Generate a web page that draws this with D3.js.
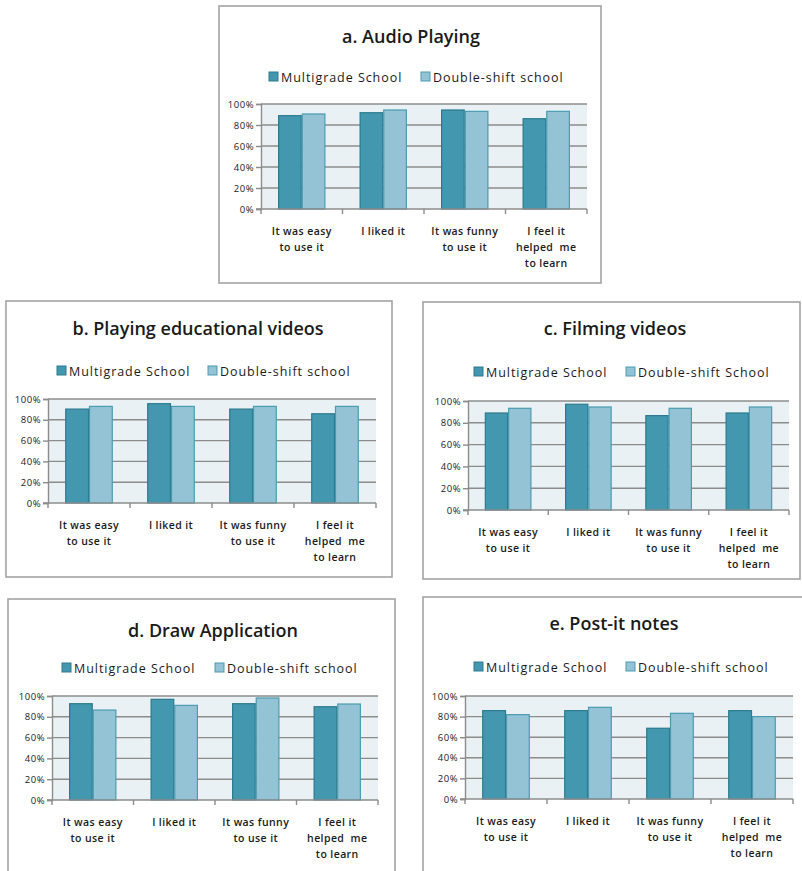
<!DOCTYPE html>
<html>
<head>
<meta charset="utf-8">
<script src="https://cdn.jsdelivr.net/npm/d3@7"></script>
<style>
  html, body { margin: 0; padding: 0; background: #ffffff; }
  svg { display: block; }
  text { font-family: "Open Sans", "Noto Sans", sans-serif; fill: #1a1a1a; }
</style>
</head>
<body>
<svg id="chart" width="802" height="871"></svg>
<script>
// Survey answers, share of pupils agreeing (0–1)
const categories = ["It was easy to use it", "I liked it", "It was funny to use it", "I feel it helped me to learn"];
const categoryLines = [["It was easy", "to use it"], ["I liked it"], ["It was funny", "to use it"], ["I feel it", "helped  me", "to learn"]];
const yTicks = [0, 0.2, 0.4, 0.6, 0.8, 1.0];

const titles = ["a. Audio Playing", "b. Playing educational videos", "c. Filming videos", "d. Draw Application", "e. Post-it notes"];
const seriesA = ["Multigrade School", "Double-shift school"];
const seriesC = ["Multigrade School", "Double-shift School"];

const audioMulti   = [0.889, 0.917, 0.943, 0.860];
const audioDouble  = [0.905, 0.943, 0.930, 0.930];
const videoMulti   = [0.903, 0.955, 0.903, 0.858];
const videoDouble  = [0.929, 0.929, 0.929, 0.929];
const filmMulti    = [0.890, 0.970, 0.866, 0.890];
const filmDouble   = [0.933, 0.945, 0.933, 0.945];
const drawMulti    = [0.926, 0.968, 0.926, 0.897];
const drawDouble   = [0.865, 0.910, 0.981, 0.923];
const postitMulti  = [0.858, 0.858, 0.687, 0.858];
const postitDouble = [0.819, 0.890, 0.832, 0.800];

// Panel frames and plot areas (pixels)
const panels = [
  { title: titles[0], series: seriesA, values: [audioMulti, audioDouble],
    box: [219, 6, 382, 277], plot: [261, 587, 104, 209], titleXY: [411, 43], legendY: 77, legendX: [269, 421] },
  { title: titles[1], series: seriesA, values: [videoMulti, videoDouble],
    box: [6, 301, 386, 276], plot: [48, 376, 399, 503], titleXY: [198, 335], legendY: 371, legendX: [57, 208] },
  { title: titles[2], series: seriesC, values: [filmMulti, filmDouble],
    box: [423, 302, 377, 277], plot: [468, 789, 401, 510], titleXY: [615, 335], legendY: 372, legendX: [474, 626] },
  { title: titles[3], series: seriesA, values: [drawMulti, drawDouble],
    box: [8, 599, 387, 290], plot: [52, 378, 696, 800], titleXY: [213, 637], legendY: 668, legendX: [62, 215] },
  { title: titles[4], series: seriesA, values: [postitMulti, postitDouble],
    box: [423, 597, 400, 290], plot: [465, 793, 696, 799], titleXY: [614, 630], legendY: 667, legendX: [474, 626] }
];

const fills   = ["#4397ae", "#93c3d4"];
const strokes = ["#2c7a8f", "#4a9bb2"];

const svg = d3.select("#chart");

panels.forEach(p => {
  const g = svg.append("g");

  // frame
  g.append("rect")
    .attr("x", p.box[0]).attr("y", p.box[1])
    .attr("width", p.box[2]).attr("height", p.box[3])
    .attr("fill", "#ffffff").attr("stroke", "#a3a3a3").attr("stroke-width", 1.6);

  // title
  g.append("text")
    .attr("x", p.titleXY[0]).attr("y", p.titleXY[1])
    .attr("text-anchor", "middle")
    .attr("font-size", 18).attr("font-weight", 600)
    .text(p.title);

  // legend
  p.series.forEach((s, i) => {
    const lx = p.legendX[i];
    g.append("rect")
      .attr("x", lx).attr("y", p.legendY - 5)
      .attr("width", 9).attr("height", 9)
      .attr("fill", fills[i]).attr("stroke", strokes[i]).attr("stroke-width", 1);
    g.append("text")
      .attr("x", lx + 12).attr("y", p.legendY + 4.5)
      .attr("font-size", 12.5).attr("letter-spacing", 0.95)
      .text(s);
  });

  const [x0, x1, yTop, yBot] = p.plot;
  const x = d3.scaleBand().domain(categories).range([x0, x1]).paddingInner(0.42).paddingOuter(0.21);
  const xs = d3.scaleBand().domain(d3.range(p.series.length)).range([0, x.bandwidth()]);
  const y = d3.scaleLinear().domain([0, 1]).range([yBot, yTop]);

  // plot background
  g.append("rect")
    .attr("x", x0).attr("y", yTop)
    .attr("width", x1 - x0).attr("height", yBot - yTop)
    .attr("fill", "#eaf1f4");

  // y axis with gridlines
  const yAxis = d3.axisLeft(y).tickValues(yTicks).tickFormat(d3.format(".0%")).tickSize(5).tickPadding(2);
  const ya = g.append("g").attr("transform", `translate(${x0},0)`).call(yAxis);
  ya.select(".domain").attr("stroke", "#8c8c8c").attr("stroke-width", 1.4);
  ya.selectAll(".tick line").attr("stroke", "#8c8c8c").attr("stroke-width", 1.4);
  ya.selectAll(".tick text").attr("font-size", 9.5).attr("letter-spacing", 0.5)
    .attr("font-family", "\"Open Sans\", sans-serif").attr("fill", "#1a1a1a");

  g.append("g").selectAll("line").data(yTicks.filter(t => t > 0)).join("line")
    .attr("x1", x0).attr("x2", x1)
    .attr("y1", d => y(d)).attr("y2", d => y(d))
    .attr("stroke", "#8c8c8c").attr("stroke-width", 1.4);

  // bars
  p.series.forEach((s, si) => {
    g.append("g").selectAll("rect").data(p.values[si]).join("rect")
      .attr("x", (d, ci) => x(categories[ci]) + xs(si) + 0.5)
      .attr("y", d => y(d))
      .attr("width", xs.bandwidth() - 1)
      .attr("height", d => yBot - y(d))
      .attr("fill", fills[si]).attr("stroke", strokes[si]).attr("stroke-width", 1.2);
  });

  // x axis: baseline with ticks at category boundaries
  g.append("line")
    .attr("x1", x0 - 5).attr("x2", x1)
    .attr("y1", yBot).attr("y2", yBot)
    .attr("stroke", "#8c8c8c").attr("stroke-width", 1.4);
  const bounds = categories.map(c => x(c) - x.step() * x.paddingOuter()).concat([x1]);
  g.append("g").selectAll("line").data(bounds).join("line")
    .attr("x1", d => d).attr("x2", d => d)
    .attr("y1", yBot).attr("y2", yBot + 5)
    .attr("stroke", "#8c8c8c").attr("stroke-width", 1.4);

  // category labels
  categoryLines.forEach((lines, ci) => {
    const cx = x(categories[ci]) + x.bandwidth() / 2;
    const t = g.append("text")
      .attr("text-anchor", "middle")
      .attr("font-size", 10.5).attr("font-weight", 600).attr("letter-spacing", 0.4)
      .style("white-space", "pre");
    lines.forEach((ln, li) => {
      t.append("tspan").attr("x", cx).attr("y", yBot + 26 + li * 16).text(ln);
    });
  });
});
</script>
</body>
</html>
